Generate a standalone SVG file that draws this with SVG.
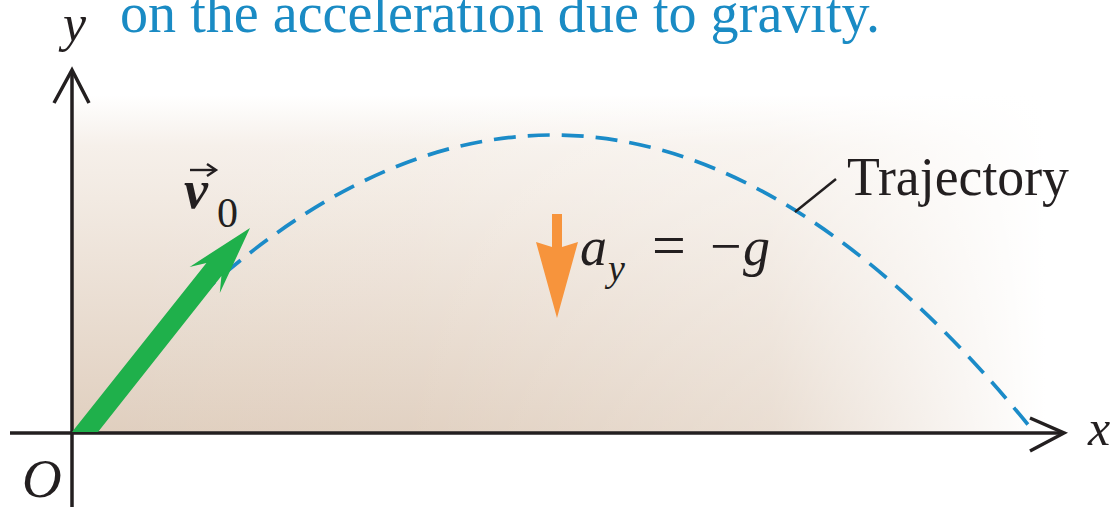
<svg xmlns="http://www.w3.org/2000/svg" width="1119" height="507" viewBox="0 0 1119 507">
  <defs>
    <linearGradient id="bgV" x1="0" y1="95" x2="0" y2="433" gradientUnits="userSpaceOnUse">
      <stop offset="0" stop-color="#ffffff"/>
      <stop offset="0.15" stop-color="#f6f0ea"/>
      <stop offset="1" stop-color="#e0cfbf"/>
    </linearGradient>
    <linearGradient id="bgH" x1="72" y1="0" x2="1045" y2="0" gradientUnits="userSpaceOnUse">
      <stop offset="0" stop-color="#ffffff" stop-opacity="0"/>
      <stop offset="0.35" stop-color="#ffffff" stop-opacity="0.05"/>
      <stop offset="0.72" stop-color="#ffffff" stop-opacity="0.3"/>
      <stop offset="1" stop-color="#ffffff" stop-opacity="1"/>
    </linearGradient>
    <style>
      .axis { stroke: #231f20; stroke-width: 3.5; fill: none; }
      .serif { font-family: "Liberation Serif", "Times New Roman", serif; fill: #231f20; }
      .ital { font-style: italic; }
    </style>
  </defs>

  <rect width="1119" height="507" fill="#ffffff"/>
  <g id="background">
    <rect x="72" y="95" width="975" height="338" fill="url(#bgV)"/>
    <rect x="72" y="95" width="975" height="338" fill="url(#bgH)"/>
  </g>

  <g id="title">
    <text x="120" y="32" font-family="Liberation Serif, 'Times New Roman', serif" font-size="56" fill="#1a8bc4" textLength="760" lengthAdjust="spacingAndGlyphs">on the acceleration due to gravity.</text>
  </g>

  <g id="trajectory">
    <path d="M198,296.8 Q616,-84.2 1034,432" fill="none" stroke="#1b8bc8" stroke-width="3.7" stroke-dasharray="22 12"/>
  </g>

  <g id="axes">
    <line class="axis" x1="72" y1="72" x2="72" y2="507"/>
    <polyline class="axis" points="54,103 72,70 89,103"/>
    <line class="axis" x1="10" y1="433" x2="1062" y2="433"/>
    <polyline class="axis" points="1030,418 1064,433 1030,451"/>
  </g>

  <g id="connectors">
    <line x1="795" y1="212" x2="836" y2="179" stroke="#231f20" stroke-width="2.5"/>
  </g>

  <g id="v0-arrow">
    <polygon points="72,432 206.4,262.9 189.6,266.9 250,228 219.8,293.1 221.4,276.1 98,432" fill="#1fb04b"/>
  </g>

  <g id="gravity-arrow">
    <polygon points="552,214 562,214 562,247 578,242 557,318 536,242 552,247" fill="#f7943c"/>
  </g>

  <g id="labels">
    <text class="serif ital" x="63" y="41" font-size="52">y</text>
    <text class="serif ital" x="22" y="497" font-size="55">O</text>
    <text class="serif ital" x="1088" y="445" font-size="50">x</text>
    <text class="serif" x="847" y="195" font-size="55" textLength="222" lengthAdjust="spacingAndGlyphs">Trajectory</text>
    <g id="v0-label">
      <text class="serif ital" x="184" y="208" font-size="54" font-weight="bold">v</text>
      <text class="serif" x="217" y="227" font-size="42">0</text>
      <line x1="190" y1="170" x2="214" y2="170" stroke="#231f20" stroke-width="2.4"/>
      <polyline points="207,164 216,170 207,176" fill="none" stroke="#231f20" stroke-width="2.4"/>
    </g>
    <g id="accel-label">
      <text class="serif ital" x="580" y="265" font-size="54">a</text>
      <text class="serif ital" x="608" y="281" font-size="38">y</text>
      <text class="serif" x="652" y="265" font-size="60">=</text>
      <text class="serif" x="710" y="265" font-size="56">−</text>
      <text class="serif ital" x="743" y="265" font-size="54">g</text>
    </g>
  </g>
</svg>
